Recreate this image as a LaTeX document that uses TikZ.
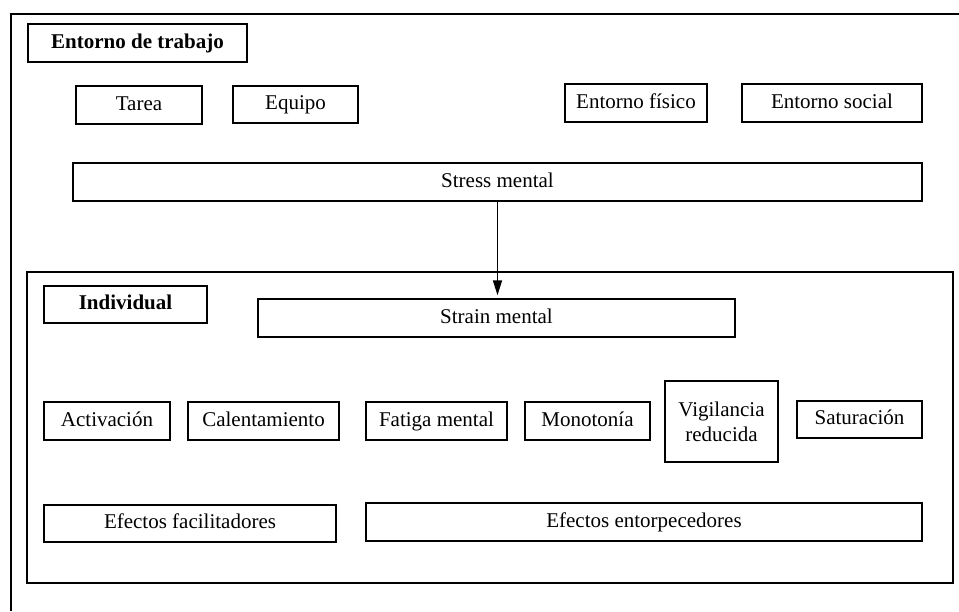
\documentclass[tikz,border=0pt]{standalone}
\usepackage{fontspec}
\setmainfont{Liberation Serif}
\usetikzlibrary{arrows.meta}
\begin{document}
\begin{tikzpicture}[x=1pt,y=-1pt,
  every node/.style={font=\fontsize{21}{25}\selectfont},
  box/.style={draw, line width=1.4pt, inner sep=0pt, align=center, text height=14pt, text depth=4pt},
  twoline/.style={draw, line width=1.4pt, inner sep=0pt, align=center},
  frame/.style={draw, line width=1.6pt},
  conn/.style={line width=1.6pt, -{Triangle[length=15pt,width=9pt]}}]
\useasboundingbox (0,0) rectangle (959,611);
% outer frame (open right and bottom)
\coordinate (otl) at (11,14);
\coordinate (otr) at (959,14);
\coordinate (obl) at (11,611);
\draw[frame] (otr) -- (otl) -- (obl);
% inner frame
\node[frame, inner sep=0pt, minimum width=926pt, minimum height=311pt] (inner) at (490,427.5) {};
% environment
\node[box, minimum width=219pt, minimum height=38pt, font=\fontsize{21}{25}\selectfont\bfseries] (ent) at (137.5,43) {Entorno de trabajo};
\node[box, minimum width=126pt, minimum height=38pt] (tarea) at (139,105) {Tarea};
\node[box, minimum width=125pt, minimum height=37pt] (equipo) at (295.5,104.5) {Equipo};
\node[box, minimum width=142pt, minimum height=38pt] (fisico) at (636,103) {Entorno físico};
\node[box, minimum width=180pt, minimum height=38pt] (social) at (832,103) {Entorno social};
\node[box, minimum width=849pt, minimum height=38pt] (stress) at (497.5,182) {Stress mental};
% individual
\node[box, minimum width=163pt, minimum height=37pt, font=\fontsize{21}{25}\selectfont\bfseries] (indiv) at (125.5,304.5) {Individual};
\node[box, minimum width=477pt, minimum height=38pt] (strain) at (496.5,318) {Strain mental};
\node[box, minimum width=126pt, minimum height=38pt] (activ) at (107,421) {Activación};
\node[box, minimum width=151pt, minimum height=38pt] (calent) at (263.5,421) {Calentamiento};
\node[box, minimum width=141pt, minimum height=38pt] (fatiga) at (436.5,421) {Fatiga mental};
\node[box, minimum width=125pt, minimum height=38pt] (mono) at (587.5,421) {Monotonía};
\node[twoline, minimum width=113pt, minimum height=81pt] (vigil) at (721.5,421.5) {Vigilancia\\reducida};
\node[box, minimum width=125pt, minimum height=37pt] (satur) at (859.5,419.5) {Saturación};
\node[box, minimum width=292pt, minimum height=37pt] (efac) at (190,523.5) {Efectos facilitadores};
\node[box, minimum width=556pt, minimum height=38pt] (eent) at (644,522) {Efectos entorpecedores};
% connector
\draw[conn, shorten >=3pt] (stress.south) -- (stress.south |- strain.north);
\end{tikzpicture}
\end{document}
